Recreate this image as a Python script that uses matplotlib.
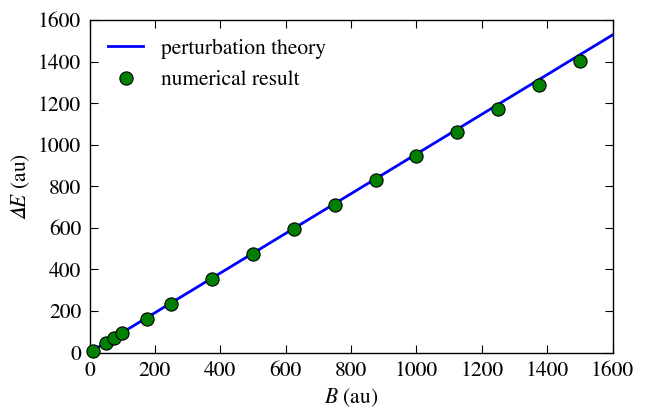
import matplotlib
matplotlib.use("Agg")
import matplotlib.pyplot as plt

# theory line
B_theory = [0, 1600]
E_theory = [0, 1528]

# numerical results
B_num = [10, 50, 75, 100, 175, 250, 375, 500, 625, 750, 875, 1000, 1125, 1250, 1375, 1500]
E_num = [8, 45, 68, 93, 163, 235, 353, 473, 593, 710, 828, 945, 1059, 1174, 1288, 1404]

xticks = [0, 200, 400, 600, 800, 1000, 1200, 1400, 1600]
yticks = [0, 200, 400, 600, 800, 1000, 1200, 1400, 1600]

plt.rcParams['font.family'] = ['STIXGeneral', 'DejaVu Serif']
plt.rcParams['mathtext.fontset'] = 'stix'

FS = 15.5

fig = plt.figure(figsize=(6.47, 4.08), dpi=100)
ax = fig.add_axes([89.5/647, 1 - 352.5/408, (612.5-89.5)/647, (352.5-20)/408])

ax.plot(B_theory, E_theory, color='blue', lw=2.0, label='perturbation theory', zorder=2)
ax.plot(B_num, E_num, 'o', color=(0, 0.5, 0), mec='black', mew=0.8, ms=9.5,
        label='numerical result', zorder=3, clip_on=False)

ax.set_xlim(0, 1600)
ax.set_ylim(0, 1600)
ax.set_xticks(xticks)
ax.set_yticks(yticks)
ax.tick_params(direction='in', top=True, right=True, length=6, width=0.8,
               labelsize=FS, pad=6)
for s in ax.spines.values():
    s.set_linewidth(1.0)

ax.set_xlabel(r'$B$ (au)', fontsize=FS, labelpad=4)
ax.set_ylabel('$\U0001D6E5E$ (au)', fontsize=FS, labelpad=4)

ax.legend(loc='upper left', frameon=False, fontsize=FS, numpoints=1,
          handlelength=1.65, handletextpad=0.8, borderaxespad=0.45,
          borderpad=0.4, labelspacing=0.55)

fig.savefig('out.png', dpi=100)
